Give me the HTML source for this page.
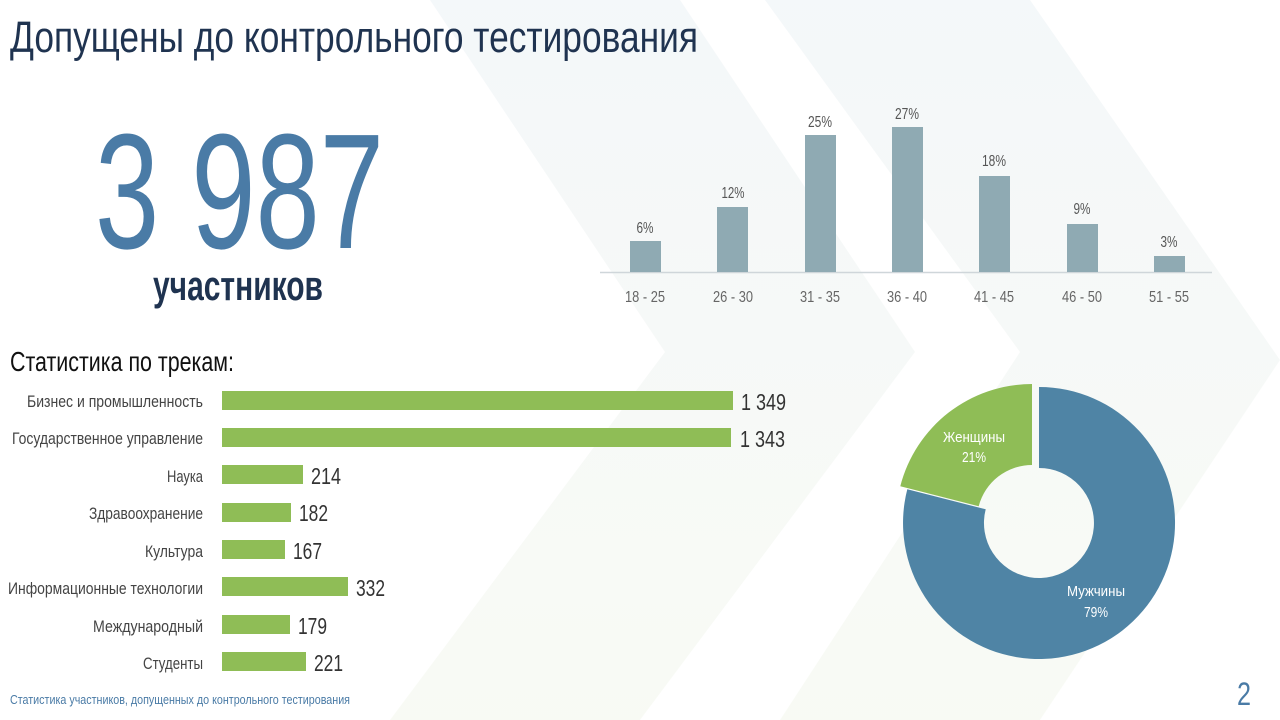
<!DOCTYPE html>
<html><head><meta charset="utf-8"><style>
html,body{margin:0;padding:0;background:#fff;}
svg{display:block;}
text{font-family:"Liberation Sans Narrow","Liberation Sans",sans-serif;}
</style></head><body>
<svg width="1280" height="720" viewBox="0 0 1280 720" xmlns="http://www.w3.org/2000/svg">
<defs>
<linearGradient id="g1" x1="0" y1="0" x2="0" y2="1">
<stop offset="0" stop-color="#e9f0f4"/><stop offset="0.5" stop-color="#eef3f0"/><stop offset="1" stop-color="#f2f6ea"/>
</linearGradient>
</defs>
<rect width="1280" height="720" fill="#fff"/>
<polygon points="430,0 680,0 915,352 640,720 390,720 665,352" fill="url(#g1)" opacity="0.5"/>
<polygon points="765,0 1030,0 1280,360 1040,720 780,720 1020,352" fill="url(#g1)" opacity="0.5"/>

<text x="10" y="52" font-size="44" fill="#1f3350" textLength="688" lengthAdjust="spacingAndGlyphs">Допущены до контрольного тестирования</text>

<text x="95" y="248" font-size="164" fill="#4a7ba6" textLength="289" lengthAdjust="spacingAndGlyphs">3 987</text>
<text x="153" y="300" font-size="42" font-weight="bold" fill="#1f3350" textLength="170" lengthAdjust="spacingAndGlyphs">участников</text>

<line x1="600" y1="272.5" x2="1212" y2="272.5" stroke="#cfd6da" stroke-width="1.5"/>
<g fill="#8faab3">
<rect x="630" y="241" width="31" height="31"/>
<rect x="717" y="207" width="31" height="65"/>
<rect x="805" y="135" width="31" height="137"/>
<rect x="892" y="127" width="31" height="145"/>
<rect x="979" y="176" width="31" height="96"/>
<rect x="1067" y="224" width="31" height="48"/>
<rect x="1154" y="256" width="31" height="16"/>
</g>
<g font-size="16" fill="#555" text-anchor="middle" lengthAdjust="spacingAndGlyphs">
<text x="645" y="233" textLength="17" lengthAdjust="spacingAndGlyphs">6%</text>
<text x="733" y="198" textLength="23" lengthAdjust="spacingAndGlyphs">12%</text>
<text x="820" y="127" textLength="24" lengthAdjust="spacingAndGlyphs">25%</text>
<text x="907" y="119" textLength="24" lengthAdjust="spacingAndGlyphs">27%</text>
<text x="994" y="166" textLength="24" lengthAdjust="spacingAndGlyphs">18%</text>
<text x="1082" y="214" textLength="17" lengthAdjust="spacingAndGlyphs">9%</text>
<text x="1169" y="247" textLength="17" lengthAdjust="spacingAndGlyphs">3%</text>
</g>
<g font-size="16" fill="#666" text-anchor="middle">
<text x="645" y="302" textLength="40" lengthAdjust="spacingAndGlyphs">18 - 25</text>
<text x="733" y="302" textLength="40" lengthAdjust="spacingAndGlyphs">26 - 30</text>
<text x="820" y="302" textLength="40" lengthAdjust="spacingAndGlyphs">31 - 35</text>
<text x="907" y="302" textLength="40" lengthAdjust="spacingAndGlyphs">36 - 40</text>
<text x="994" y="302" textLength="40" lengthAdjust="spacingAndGlyphs">41 - 45</text>
<text x="1082" y="302" textLength="40" lengthAdjust="spacingAndGlyphs">46 - 50</text>
<text x="1169" y="302" textLength="40" lengthAdjust="spacingAndGlyphs">51 - 55</text>
</g>

<text x="10" y="371" font-size="28" fill="#111" textLength="224" lengthAdjust="spacingAndGlyphs">Статистика по трекам:</text>

<g fill="#8fbd56">
<rect x="222" y="391" width="511" height="19"/>
<rect x="222" y="428" width="509" height="19"/>
<rect x="222" y="465" width="81" height="19"/>
<rect x="222" y="503" width="69" height="19"/>
<rect x="222" y="540" width="63" height="19"/>
<rect x="222" y="577" width="126" height="19"/>
<rect x="222" y="615" width="68" height="19"/>
<rect x="222" y="652" width="84" height="19"/>
</g>
<g font-size="17" fill="#444" text-anchor="end">
<text x="203" y="407" textLength="176" lengthAdjust="spacingAndGlyphs">Бизнес и промышленность</text>
<text x="203" y="444" textLength="191" lengthAdjust="spacingAndGlyphs">Государственное управление</text>
<text x="203" y="482" textLength="36" lengthAdjust="spacingAndGlyphs">Наука</text>
<text x="203" y="519" textLength="114" lengthAdjust="spacingAndGlyphs">Здравоохранение</text>
<text x="203" y="557" textLength="58" lengthAdjust="spacingAndGlyphs">Культура</text>
<text x="203" y="594" textLength="195" lengthAdjust="spacingAndGlyphs">Информационные технологии</text>
<text x="203" y="632" textLength="110" lengthAdjust="spacingAndGlyphs">Международный</text>
<text x="203" y="669" textLength="60" lengthAdjust="spacingAndGlyphs">Студенты</text>
</g>
<g font-size="23" fill="#333">
<text x="741" y="410" textLength="45" lengthAdjust="spacingAndGlyphs">1 349</text>
<text x="740" y="447" textLength="45" lengthAdjust="spacingAndGlyphs">1 343</text>
<text x="311" y="484" textLength="30" lengthAdjust="spacingAndGlyphs">214</text>
<text x="299" y="521" textLength="29" lengthAdjust="spacingAndGlyphs">182</text>
<text x="293" y="559" textLength="29" lengthAdjust="spacingAndGlyphs">167</text>
<text x="356" y="596" textLength="29" lengthAdjust="spacingAndGlyphs">332</text>
<text x="298" y="634" textLength="29" lengthAdjust="spacingAndGlyphs">179</text>
<text x="314" y="671" textLength="29" lengthAdjust="spacingAndGlyphs">221</text>
</g>

<path d="M1039,387 A136,136 0 1 1 907.3,489.2 L985.7,509.3 A55,55 0 1 0 1039,468 Z" fill="#4f84a5"/>
<path d="M907.3,489.2 A136,136 0 0 1 1039,387 L1039,468 A55,55 0 0 0 985.7,509.3 Z" fill="#8fbd56" transform="translate(-7,-3)"/>
<g font-size="15" fill="#fff" text-anchor="middle">
<text x="974" y="442" textLength="62" lengthAdjust="spacingAndGlyphs">Женщины</text>
<text x="974" y="462" textLength="24" lengthAdjust="spacingAndGlyphs">21%</text>
<text x="1096" y="596" textLength="58" lengthAdjust="spacingAndGlyphs">Мужчины</text>
<text x="1096" y="617" textLength="24" lengthAdjust="spacingAndGlyphs">79%</text>
</g>

<text x="10" y="704" font-size="13" fill="#4a7ba6" textLength="340" lengthAdjust="spacingAndGlyphs">Статистика участников, допущенных до контрольного тестирования</text>
<text x="1237" y="705" font-size="32" fill="#4a7ba6" textLength="14" lengthAdjust="spacingAndGlyphs">2</text>
</svg>
</body></html>
